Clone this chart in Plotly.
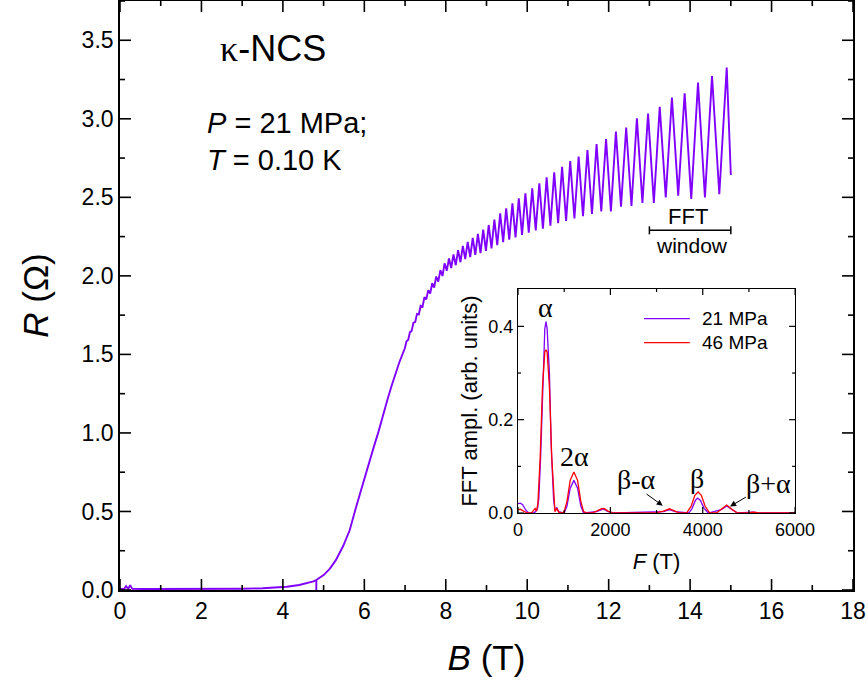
import plotly.graph_objects as go

# ---- main curve: R(B) at P = 21 MPa, T = 0.10 K ----
# smooth part (superconducting transition and onset of normal state)
b_low = [0.0, 0.1, 0.15, 0.2, 0.25, 0.3, 0.6, 1.0, 1.5, 2.0, 2.5, 3.0, 3.5, 3.8, 4.1,
         4.4, 4.6, 4.75, 4.82, 4.821, 4.822, 4.9, 5.0, 5.15, 5.3, 5.48, 5.64, 5.8,
         5.97, 6.1, 6.22, 6.35, 6.46, 6.57, 6.67, 6.77, 6.86]
r_low = [0.006, 0.006, 0.025, 0.007, 0.03, 0.007, 0.006, 0.006, 0.006, 0.007, 0.007,
         0.008, 0.011, 0.015, 0.021, 0.032, 0.043, 0.055, 0.064, 0.0, 0.064, 0.078,
         0.095, 0.135, 0.19, 0.28, 0.38, 0.53, 0.685, 0.79, 0.90, 1.01, 1.12, 1.215,
         1.30, 1.38, 1.45]

# Shubnikov-de Haas oscillations: maxima and minima
b_peak = [7.036, 7.120, 7.206, 7.293, 7.383, 7.475, 7.569, 7.666, 7.765, 7.867,
          7.971, 8.079, 8.189, 8.302, 8.419, 8.538, 8.662, 8.789, 8.919, 9.054,
          9.193, 9.336, 9.483, 9.636, 9.793, 9.955, 10.123, 10.297, 10.477, 10.663,
          10.856, 11.056, 11.263, 11.479, 11.703, 11.936, 12.178, 12.430, 12.693, 12.967,
          13.254, 13.553, 13.866, 14.194, 14.538, 14.899]
r_peak = [1.583, 1.642, 1.702, 1.758, 1.810, 1.864, 1.909, 1.953, 1.996, 2.037,
          2.080, 2.111, 2.137, 2.163, 2.191, 2.217, 2.242, 2.267, 2.294, 2.324,
          2.358, 2.398, 2.430, 2.462, 2.493, 2.525, 2.557, 2.589, 2.627, 2.659,
          2.695, 2.731, 2.759, 2.801, 2.839, 2.871, 2.918, 2.945, 3.003, 3.034,
          3.077, 3.136, 3.162, 3.230, 3.272, 3.327]
b_trough = [6.995, 7.078, 7.162, 7.249, 7.338, 7.429, 7.522, 7.617, 7.715, 7.816,
            7.919, 8.025, 8.133, 8.245, 8.360, 8.478, 8.600, 8.725, 8.853, 8.986,
            9.123, 9.264, 9.409, 9.559, 9.713, 9.873, 10.038, 10.209, 10.386, 10.569,
            10.759, 10.955, 11.159, 11.370, 11.590, 11.818, 12.055, 12.303, 12.560, 12.829,
            13.109, 13.402, 13.708, 14.028, 14.364, 14.717]
r_trough = [1.539, 1.593, 1.649, 1.706, 1.754, 1.803, 1.850, 1.888, 1.926, 1.963,
            1.999, 2.033, 2.050, 2.068, 2.087, 2.107, 2.120, 2.133, 2.145, 2.159,
            2.175, 2.195, 2.215, 2.230, 2.245, 2.260, 2.275, 2.290, 2.300, 2.320,
            2.335, 2.350, 2.365, 2.380, 2.395, 2.410, 2.410, 2.440, 2.445, 2.465,
            2.465, 2.500, 2.510, 2.490, 2.500, 2.520]
b_end = [15.0]
r_end = [2.642]

# ---- inset: FFT spectra ----
f_21 = [0, 50, 100, 170, 230, 350, 420, 450, 490, 540, 580, 606, 630, 680, 720, 770,
        800, 840, 880, 1000, 1060, 1130, 1210, 1290, 1360, 1420, 1700, 1850, 1950, 2100,
        3150, 3280, 3400, 3700, 3770, 3840, 3890, 3950, 4030, 4120, 4400, 4520, 4640,
        4750, 5100, 5250, 6000]
a_21 = [0.020, 0.021, 0.018, 0.006, 0.0, 0.0, 0.008, 0.03, 0.12, 0.30, 0.395, 0.41,
        0.395, 0.30, 0.14, 0.03, 0.005, 0.012, 0.003, 0.0, 0.015, 0.053, 0.070, 0.053,
        0.015, 0.0, 0.003, 0.009, 0.003, 0.0, 0.003, 0.007, 0.003, 0.0, 0.010, 0.027,
        0.032, 0.027, 0.010, 0.0, 0.007, 0.015, 0.007, 0.0, 0.002, 0.0, 0.0]
f_46 = [0, 50, 120, 200, 300, 370, 400, 430, 480, 530, 580, 606, 630, 680, 730, 780,
        800, 840, 880, 960, 1000, 1060, 1130, 1210, 1290, 1360, 1420, 1500, 1600, 1700,
        1800, 1860, 1950, 2050, 2500, 3000, 3150, 3280, 3400, 3500, 3650, 3750, 3830,
        3900, 3970, 4050, 4150, 4300, 4400, 4520, 4630, 4750, 5000, 5100, 5250, 6000]
a_46 = [0.007, 0.008, 0.004, 0.0, 0.001, 0.010, 0.004, 0.02, 0.12, 0.27, 0.345, 0.35,
        0.345, 0.27, 0.12, 0.02, 0.003, 0.010, 0.002, 0.0, 0.003, 0.025, 0.070, 0.088,
        0.070, 0.025, 0.003, 0.0, 0.0, 0.004, 0.009, 0.010, 0.004, 0.0, 0.001, 0.001,
        0.004, 0.009, 0.004, 0.0, 0.0, 0.015, 0.038, 0.045, 0.038, 0.015, 0.0, 0.0,
        0.008, 0.017, 0.008, 0.0, 0.001, 0.002, 0.0, 0.0]
legend_names = ["21 MPa", "46 MPa"]

# axis ranges and tick values (major, minor)
b_range = [0, 18]
r_range = [0, 3.75]
f_range = [0, 6000]
a_range = [0, 0.48]
b_major = [0, 2, 4, 6, 8, 10, 12, 14, 16, 18]
b_minor = [1, 3, 5, 7, 9, 11, 13, 15, 17]
r_major = [0.0, 0.5, 1.0, 1.5, 2.0, 2.5, 3.0, 3.5]
r_minor = [0.25, 0.75, 1.25, 1.75, 2.25, 2.75, 3.25, 3.75]
f_major = [0, 2000, 4000, 6000]
f_minor = [1000, 3000, 5000]
a_major = [0.0, 0.2, 0.4]
a_minor = [0.1, 0.3]

VIOLET = "#8000ff"
RED = "#ff0000"
FONT = "Liberation Sans"
SERIF = "Liberation Serif"

# page geometry
W, H = 868, 685
M_L, M_R, M_T, M_B = 120, 15, 1, 95
INSET_X = [0.543, 0.921]
INSET_Y = [0.1307, 0.511]
PLOT_W = W - M_L - M_R
PLOT_H = H - M_T - M_B

osc = sorted(zip(b_peak + b_trough, r_peak + r_trough))
b_all = b_low + [p[0] for p in osc] + b_end
r_all = r_low + [p[1] for p in osc] + r_end

fig = go.Figure()
fig.add_trace(go.Scatter(x=b_all, y=r_all, mode="lines", showlegend=False,
                         line=dict(color=VIOLET, width=1.9)))
fig.add_trace(go.Scatter(x=f_21, y=a_21, mode="lines", name=legend_names[0], showlegend=False,
                         xaxis="x2", yaxis="y2", line=dict(color=VIOLET, width=1.3)))
fig.add_trace(go.Scatter(x=f_46, y=a_46, mode="lines", name=legend_names[1], showlegend=False,
                         xaxis="x2", yaxis="y2", line=dict(color=RED, width=1.3)))


def tick_marks(xr, yr, w_px, h_px, xmaj, xmin, ymaj, ymin, major_len, minor_len):
    """Inward tick segments on all four frame edges, lengths given in pixels."""
    dx = (xr[1] - xr[0]) / w_px   # data units per pixel, horizontal
    dy = (yr[1] - yr[0]) / h_px   # data units per pixel, vertical
    xs, ys = [], []
    for vals, ln in ((xmaj, major_len), (xmin, minor_len)):
        for v in vals:
            xs += [v, v, None, v, v, None]
            ys += [yr[0], yr[0] + ln * dy, None, yr[1], yr[1] - ln * dy, None]
    for vals, ln in ((ymaj, major_len), (ymin, minor_len)):
        for v in vals:
            xs += [xr[0], xr[0] + ln * dx, None, xr[1], xr[1] - ln * dx, None]
            ys += [v, v, None, v, v, None]
    return xs, ys


tx, ty = tick_marks(b_range, r_range, PLOT_W, PLOT_H, b_major, b_minor, r_major, r_minor, 11, 5)
fig.add_trace(go.Scatter(x=tx, y=ty, mode="lines", showlegend=False, hoverinfo="skip",
                         line=dict(color="black", width=1.6)))
tx2, ty2 = tick_marks(f_range, a_range, PLOT_W * (INSET_X[1] - INSET_X[0]),
                      PLOT_H * (INSET_Y[1] - INSET_Y[0]),
                      f_major, f_minor, a_major, a_minor, 6, 3)
fig.add_trace(go.Scatter(x=tx2, y=ty2, mode="lines", showlegend=False, hoverinfo="skip",
                         xaxis="x2", yaxis="y2", line=dict(color="black", width=1.2)))


def labelled_axis(width, **kw):
    """Boxed frame with tick labels; the inward tick marks are drawn as traces."""
    return dict(showline=True, linecolor="black", linewidth=width, mirror=True,
                ticks="", showgrid=False, zeroline=False, **kw)


fig.update_layout(
    template="none",
    width=W, height=H,
    margin=dict(l=M_L, r=M_R, t=M_T, b=M_B),
    paper_bgcolor="white", plot_bgcolor="rgba(0,0,0,0)",
    font=dict(family=FONT, color="black"),
    showlegend=False,
    xaxis=labelled_axis(1.6, range=b_range, tickvals=b_major, tickfont=dict(size=23),
                        title=dict(text="<i>B</i> (T)", font=dict(size=35), standoff=22)),
    yaxis=labelled_axis(1.6, range=r_range, tickvals=r_major, tickformat=".1f",
                        tickfont=dict(size=23),
                        title=dict(text="<i>R</i> (Ω)", font=dict(size=35), standoff=22)),
    xaxis2=labelled_axis(1.2, domain=INSET_X, anchor="y2", range=f_range,
                         tickvals=f_major, tickfont=dict(size=18),
                         title=dict(text="<i>F</i> (T)", font=dict(size=22), standoff=14)),
    yaxis2=labelled_axis(1.2, domain=INSET_Y, anchor="x2", range=a_range,
                         tickvals=a_major, tickformat=".1f", tickfont=dict(size=18),
                         title=dict(text="FFT ampl. (arb. units)", font=dict(size=22),
                                    standoff=4)),
)

ann = []
# labels in the main panel
ann.append(dict(x=2.4, y=3.45, xref="x", yref="y", xanchor="left", yanchor="middle",
                text=f"<span style='font-family:{SERIF}'>κ</span>-NCS", showarrow=False,
                font=dict(size=36)))
ann.append(dict(x=2.08, y=2.973, xref="x", yref="y", xanchor="left", yanchor="middle",
                text="<i>P</i> = 21 MPa;", showarrow=False, font=dict(size=29)))
ann.append(dict(x=2.08, y=2.737, xref="x", yref="y", xanchor="left", yanchor="middle",
                text="<i>T</i> = 0.10 K", showarrow=False, font=dict(size=29)))
ann.append(dict(x=13.95, y=2.375, xref="x", yref="y", xanchor="center", yanchor="middle",
                text="FFT", showarrow=False, font=dict(size=22)))
ann.append(dict(x=14.05, y=2.196, xref="x", yref="y", xanchor="center", yanchor="middle",
                text="window", showarrow=False, font=dict(size=21)))

# peak labels in the inset
greek = dict(family=SERIF, size=28)
for txt, fx, ay in [("α", 606, 0.44), ("2α", 1213, 0.121), ("β-α", 2571, 0.071),
                    ("β", 3884, 0.073), ("β+α", 5422, 0.064)]:
    ann.append(dict(x=fx, y=ay, xref="x2", yref="y2", text=txt, showarrow=False,
                    xanchor="center", yanchor="middle", font=greek))
ann.append(dict(x=3134, y=0.0157, ax=2751, ay=0.043, xref="x2", yref="y2",
                axref="x2", ayref="y2", text="", showarrow=True, arrowhead=2,
                arrowsize=1.2, arrowwidth=1.0, arrowcolor="black"))
ann.append(dict(x=4592, y=0.014, ax=4967, ay=0.036, xref="x2", yref="y2",
                axref="x2", ayref="y2", text="", showarrow=True, arrowhead=2,
                arrowsize=1.2, arrowwidth=1.0, arrowcolor="black"))

# inset legend: sample line + label for each pressure
shapes = []
for name, col, ly in [(legend_names[0], VIOLET, 0.4165), (legend_names[1], RED, 0.3650)]:
    shapes.append(dict(type="line", xref="x2", yref="y2", x0=2730, x1=3720, y0=ly, y1=ly,
                       line=dict(color=col, width=1.3)))
    ann.append(dict(x=3940, y=ly, xref="x2", yref="y2", xanchor="left", yanchor="middle",
                    text=name, showarrow=False, font=dict(size=19)))
fig.update_layout(annotations=ann)

# FFT window bracket (13-15 T)
shapes.append(dict(type="line", xref="x", yref="y", x0=13.0, x1=15.0, y0=2.29, y1=2.29,
                   line=dict(color="black", width=1.5)))
for xb in (13.0, 15.0):
    shapes.append(dict(type="line", xref="x", yref="y", ysizemode="pixel", yanchor=2.29,
                       x0=xb, x1=xb, y0=-4, y1=4, line=dict(color="black", width=1.5)))
fig.update_layout(shapes=shapes)

fig.write_html("out.html")
